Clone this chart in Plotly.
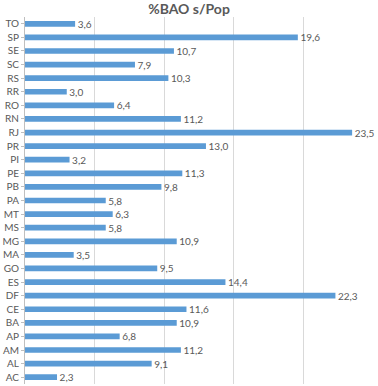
import plotly.graph_objects as go

states = ["AC","AL","AM","AP","BA","CE","DF","ES","GO","MA","MG","MS","MT","PA","PB","PE","PI","PR","RJ","RN","RO","RR","RS","SC","SE","SP","TO"]
values = [2.3,9.1,11.2,6.8,10.9,11.6,22.3,14.4,9.5,3.5,10.9,5.8,6.3,5.8,9.8,11.3,3.2,13.0,23.5,11.2,6.4,3.0,10.3,7.9,10.7,19.6,3.6]
labels = ["\u00a0" + f"{v:.1f}".replace(".", ",") for v in values]

fig = go.Figure(go.Bar(
    y=states, x=values, orientation="h",
    marker=dict(color="#5B9BD5", line=dict(width=0)),
    width=0.42,
    text=labels, textposition="outside", cliponaxis=False,
    textfont=dict(size=10, color="#595959", family="Lato"),
))
fig.update_layout(
    width=378, height=386,
    margin=dict(l=20, r=5, t=17, b=2),
    paper_bgcolor="white", plot_bgcolor="white",
    title=dict(text="<b>%BAO s/Pop</b>", x=0.5, xanchor="center", y=0.99, yanchor="top",
               font=dict(size=14, color="#595959", family="Lato")),
    showlegend=False,
    uniformtext=dict(minsize=10, mode="show"),
)
fig.update_xaxes(range=[0, 25], dtick=5, showticklabels=False, showgrid=True,
                 gridcolor="#D9D9D9", gridwidth=1, zeroline=False, showline=False)
fig.update_yaxes(categoryorder="array", categoryarray=states, showline=True,
                 linecolor="#BFBFBF", linewidth=1, ticks="outside", ticklen=3, tickcolor="#BFBFBF",
                 tickfont=dict(size=10, color="#595959", family="Lato"), showgrid=False)
fig.write_html("out.html", config={"displayModeBar": False},
               post_script="document.body.style.margin='0';")
